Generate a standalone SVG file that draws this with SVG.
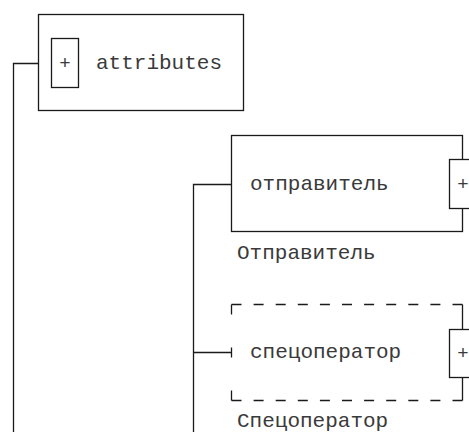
<svg xmlns="http://www.w3.org/2000/svg" width="469" height="432" viewBox="0 0 469 432">
<style>
.ln{fill:none;stroke:#1a1a1a;stroke-width:1.3}
.bx{fill:#fff;stroke:#1a1a1a;stroke-width:1.3}
.t{font-family:"Liberation Mono","Courier New",monospace;font-size:21px;fill:#3a3a3a}
.p{font-family:"Liberation Mono","Courier New",monospace;font-size:19px;fill:#3a3a3a;text-anchor:middle}
.dh{fill:none;stroke:#1a1a1a;stroke-width:1.3;stroke-dasharray:10 12.1}
.dv{fill:none;stroke:#1a1a1a;stroke-width:1.3;stroke-dasharray:10 33}
</style>
<rect width="469" height="432" fill="#fff"/>
<g id="connectors">
<path class="ln" d="M13.5,432 V63.5 H38.5"/>
<path class="ln" d="M193.5,432 V184.5 H231.5"/>
<path class="ln" d="M193.5,352.5 H231.5"/>
</g>
<g id="attributes">
<rect class="bx" x="38.5" y="14.5" width="205" height="96"/>
<rect class="bx" x="51.5" y="38.5" width="27" height="49"/>
<text class="p" x="65" y="69">+</text>
<text class="t" x="96" y="69">attributes</text>
</g>
<g id="sender">
<rect class="bx" x="231.5" y="135.5" width="231" height="96"/>
<rect class="bx" x="449.5" y="159.5" width="27" height="49"/>
<text class="p" x="463" y="190">+</text>
<text class="t" x="250" y="190">отправитель</text>
<text class="t" x="237" y="259">Отправитель</text>
</g>
<g id="specoperator">
<path class="dh" d="M231.5,304.5 H462.5"/>
<path class="dh" d="M231.5,400.5 H462.5"/>
<path class="dv" d="M231.5,304.5 V400.5"/>
<path class="ln" d="M462.5,304.5 V329.5 M462.5,377.5 V400.5"/>
<rect class="bx" x="449.5" y="329.5" width="27" height="48"/>
<text class="p" x="463" y="359">+</text>
<text class="t" x="250" y="358">спецоператор</text>
<text class="t" x="237" y="427">Спецоператор</text>
</g>
</svg>
